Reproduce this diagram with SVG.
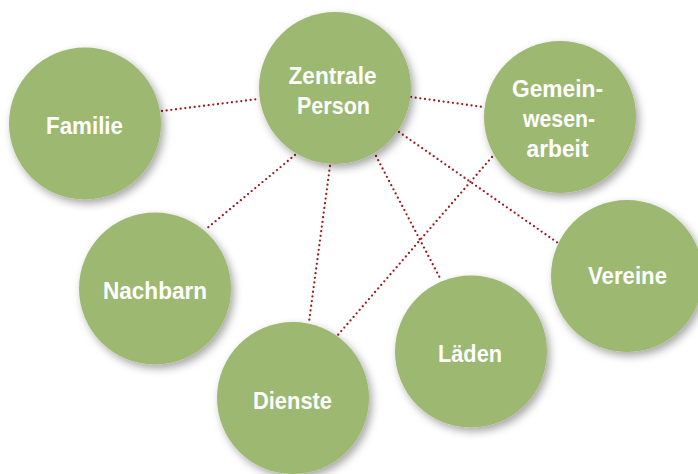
<svg xmlns="http://www.w3.org/2000/svg" width="698" height="474" viewBox="0 0 698 474">
<defs>
<filter id="sh" x="-30%" y="-30%" width="160%" height="160%">
<feDropShadow dx="3" dy="4" stdDeviation="4" flood-color="#000" flood-opacity="0.35"/>
</filter>
<style>
.n{fill:#9db871;filter:url(#sh)}
.t{fill:#fff;font-family:"Liberation Sans",Arial,sans-serif;font-weight:bold;font-size:23.5px;text-anchor:middle}
.c line{stroke:#9a1c1f;stroke-width:2.3;stroke-linecap:round;stroke-dasharray:0 4.7;fill:none}
</style>
</defs>
<rect width="698" height="474" fill="#fff"/>
<g id="connectors" class="c">
<line x1="162" y1="111" x2="258" y2="99"/>
<line x1="411" y1="97" x2="483" y2="107"/>
<line x1="295" y1="155" x2="205" y2="230"/>
<line x1="330" y1="166" x2="309" y2="322"/>
<line x1="376" y1="156" x2="441" y2="280"/>
<line x1="399" y1="132" x2="558" y2="243"/>
<line x1="492" y1="157" x2="337" y2="336"/>
</g>
<g id="zentrale"><circle class="n" cx="335" cy="88" r="76"/><text class="t" x="332.5" y="83.5" textLength="88" lengthAdjust="spacingAndGlyphs">Zentrale</text><text class="t" x="333.5" y="113.5" textLength="73" lengthAdjust="spacingAndGlyphs">Person</text></g>
<g id="familie"><circle class="n" cx="85" cy="123.5" r="76"/><text class="t" x="84.5" y="133.5" textLength="77" lengthAdjust="spacingAndGlyphs">Familie</text></g>
<g id="gemeinwesenarbeit"><circle class="n" cx="560" cy="117" r="76"/><text class="t" x="557.5" y="97" textLength="91" lengthAdjust="spacingAndGlyphs">Gemein-</text><text class="t" x="559" y="127" textLength="72" lengthAdjust="spacingAndGlyphs">wesen-</text><text class="t" x="557.5" y="157" textLength="62" lengthAdjust="spacingAndGlyphs">arbeit</text></g>
<g id="nachbarn"><circle class="n" cx="155" cy="288.5" r="76"/><text class="t" x="155" y="298.5" textLength="104" lengthAdjust="spacingAndGlyphs">Nachbarn</text></g>
<g id="vereine"><circle class="n" cx="627" cy="276" r="76"/><text class="t" x="627.5" y="283.5" textLength="79" lengthAdjust="spacingAndGlyphs">Vereine</text></g>
<g id="laeden"><circle class="n" cx="471" cy="351.5" r="76"/><text class="t" x="470" y="361.5" textLength="64" lengthAdjust="spacingAndGlyphs">Läden</text></g>
<g id="dienste"><circle class="n" cx="293" cy="398" r="76"/><text class="t" x="292.5" y="408.5" textLength="79" lengthAdjust="spacingAndGlyphs">Dienste</text></g>
</svg>
